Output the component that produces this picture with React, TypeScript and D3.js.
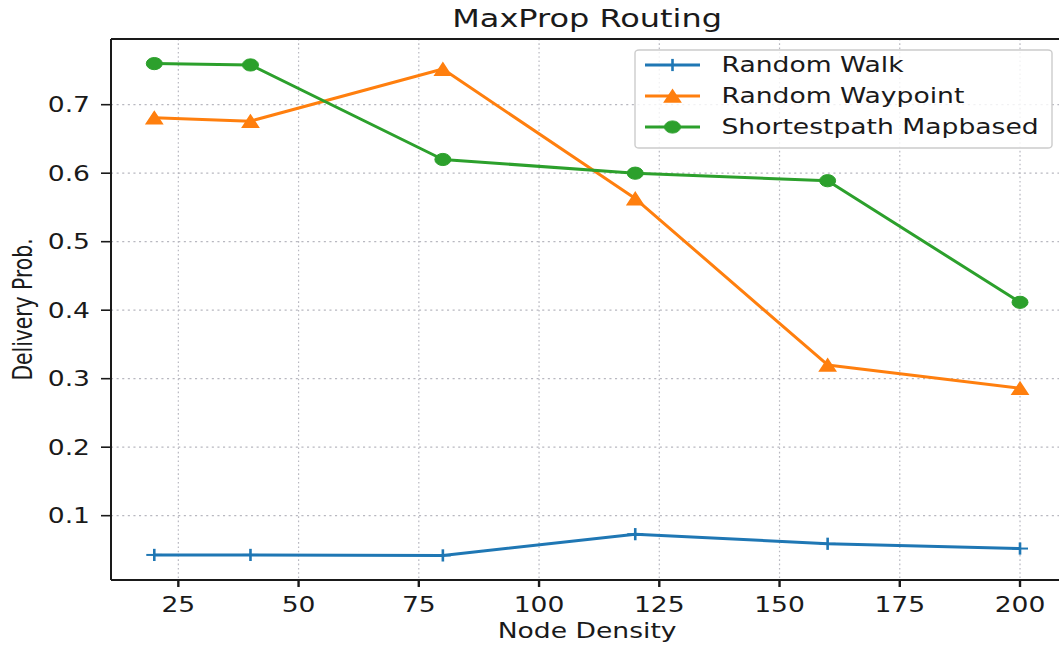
import React from "react";
import * as d3 from "d3";

const nodeDensity = [20, 40, 80, 120, 160, 200];
const randomWalk = [0.0427, 0.0427, 0.042, 0.073, 0.059, 0.052];
const randomWaypoint = [0.681, 0.676, 0.752, 0.563, 0.32, 0.286];
const shortestPath = [0.76, 0.758, 0.62, 0.6, 0.589, 0.4115];
const xTicks = [25, 50, 75, 100, 125, 150, 175, 200];
const yTicks = [0.1, 0.2, 0.3, 0.4, 0.5, 0.6, 0.7];
const seriesNames = ["Random Walk", "Random Waypoint", "Shortestpath Mapbased"];
const seriesColors = ["#1f77b4", "#ff7f0e", "#2ca02c"];
const seriesMarkers = ["plus", "triangle", "circle"];

const W = 1059;
const H = 646;
const left = 111;
const right = 1063.3;
const top = 39;
const bottom = 580;
const SX = 1.31;
const FS = 20.3;
const TEXT = "#1a1a1a";
const FONT = "'DejaVu Sans', sans-serif";

function margin(ext: [number, number]): [number, number] {
  const r = ext[1] - ext[0];
  return [ext[0] - 0.05 * r, ext[1] + 0.05 * r];
}

function Marker({ kind, cx, cy, color }: { kind: string; cx: number; cy: number; color: string }) {
  const hx = 8;
  const hy = 6.1;
  if (kind === "circle") {
    return <ellipse cx={cx} cy={cy} rx={hx} ry={hy} fill={color} stroke={color} strokeWidth={1} />;
  }
  if (kind === "triangle") {
    const p = `${cx},${cy - hy} ${cx - hx},${cy + hy} ${cx + hx},${cy + hy}`;
    return <polygon points={p} fill={color} stroke={color} strokeWidth={1.5} strokeLinejoin="miter" />;
  }
  return (
    <g stroke={color} strokeWidth={2}>
      <line x1={cx - hx} x2={cx + hx} y1={cy} y2={cy} />
      <line x1={cx} x2={cx} y1={cy - hy} y2={cy + hy} strokeWidth={2.6} />
    </g>
  );
}

export default function App() {
  const allY = [...randomWalk, ...randomWaypoint, ...shortestPath];
  const x = d3
    .scaleLinear()
    .domain(margin(d3.extent(nodeDensity) as [number, number]))
    .range([left, right]);
  const y = d3
    .scaleLinear()
    .domain(margin(d3.extent(allY) as [number, number]))
    .range([bottom, top]);

  const series = [randomWalk, randomWaypoint, shortestPath];
  const line = d3
    .line<number>()
    .x((_, i) => x(nodeDensity[i]))
    .y((d) => y(d));

  const legX = 635;
  const legY = 50;
  const legW = 417;
  const legH = 98;
  const rowY = [65, 96, 127];

  return (
    <svg
      width={W}
      height={H}
      style={{ position: "absolute", left: 0, top: 0, background: "#fff" }}
      fontFamily={FONT}
    >
      <defs>
        <clipPath id="plotclip">
          <rect x={left} y={top} width={right - left} height={bottom - top} />
        </clipPath>
      </defs>
      <rect x={0} y={0} width={W} height={H} fill="#fff" />

      {/* grid */}
      <g stroke="#b8b8c0" strokeWidth={1.2}>
        {xTicks.map((t) => (
          <line key={"gx" + t} x1={x(t)} x2={x(t)} y1={top} y2={bottom} strokeDasharray="1.6,2.7" />
        ))}
        {yTicks.map((t) => (
          <line key={"gy" + t} x1={left} x2={right} y1={y(t)} y2={y(t)} strokeDasharray="2.1,3.5" />
        ))}
      </g>

      {/* series */}
      <g clipPath="url(#plotclip)">
        {series.map((s, si) => (
          <path
            key={"l" + si}
            d={line(s) || ""}
            fill="none"
            stroke={seriesColors[si]}
            strokeWidth={3}
            strokeLinejoin="round"
          />
        ))}
        {series.map((s, si) =>
          s.map((v, i) => (
            <Marker
              key={"m" + si + "_" + i}
              kind={seriesMarkers[si]}
              cx={x(nodeDensity[i])}
              cy={y(v)}
              color={seriesColors[si]}
            />
          ))
        )}
      </g>

      {/* spines */}
      <g stroke="#1a1a1a" strokeWidth={2} fill="none">
        <line x1={left} x2={left} y1={top} y2={bottom} />
        <line x1={left} x2={right} y1={bottom} y2={bottom} />
        <line x1={left} x2={right} y1={top} y2={top} />
        <line x1={right} x2={right} y1={top} y2={bottom} />
      </g>

      {/* x ticks */}
      {xTicks.map((t) => (
        <g key={"xt" + t}>
          <line x1={x(t)} x2={x(t)} y1={bottom} y2={bottom + 7} stroke="#1a1a1a" strokeWidth={2.4} />
          <text
            transform={`translate(${x(t)},${612}) scale(${SX},1)`}
            textAnchor="middle"
            fontSize={FS}
            fill={TEXT}
          >
            {String(t)}
          </text>
        </g>
      ))}

      {/* y ticks */}
      {yTicks.map((t) => (
        <g key={"yt" + t}>
          <line x1={left - 10} x2={left} y1={y(t)} y2={y(t)} stroke="#1a1a1a" strokeWidth={1.6} />
          <text
            transform={`translate(${90},${y(t) + 7.4}) scale(${SX},1)`}
            textAnchor="end"
            fontSize={FS}
            fill={TEXT}
          >
            {d3.format(".1f")(t)}
          </text>
        </g>
      ))}

      {/* title */}
      <text
        transform={`translate(${(left + right) / 2},${26.8}) scale(${SX},1)`}
        textAnchor="middle"
        fontSize={24.4}
        fill={TEXT}
      >
        MaxProp Routing
      </text>

      {/* x label */}
      <text
        transform={`translate(${(left + right) / 2},${638}) scale(${SX},1)`}
        textAnchor="middle"
        fontSize={FS}
        fill={TEXT}
      >
        Node Density
      </text>

      {/* y label */}
      <text
        transform={`translate(${32},${(top + bottom) / 2}) scale(${SX},1) rotate(-90)`}
        textAnchor="middle"
        fontSize={FS}
        fill={TEXT}
      >
        Delivery Prob.
      </text>

      {/* legend */}
      <g>
        <rect
          x={legX}
          y={legY}
          width={legW}
          height={legH}
          rx={4}
          ry={3}
          fill="#ffffff"
          fillOpacity={0.8}
          stroke="#cccccc"
          strokeWidth={1.4}
        />
        {seriesNames.map((name, i) => (
          <g key={"lg" + i}>
            <line x1={645} x2={700} y1={rowY[i]} y2={rowY[i]} stroke={seriesColors[i]} strokeWidth={3} />
            <Marker kind={seriesMarkers[i]} cx={672.5} cy={rowY[i]} color={seriesColors[i]} />
            <text
              transform={`translate(${721.5},${rowY[i] + 7.4}) scale(${SX},1)`}
              fontSize={FS}
              fill={TEXT}
            >
              {name}
            </text>
          </g>
        ))}
      </g>
    </svg>
  );
}
